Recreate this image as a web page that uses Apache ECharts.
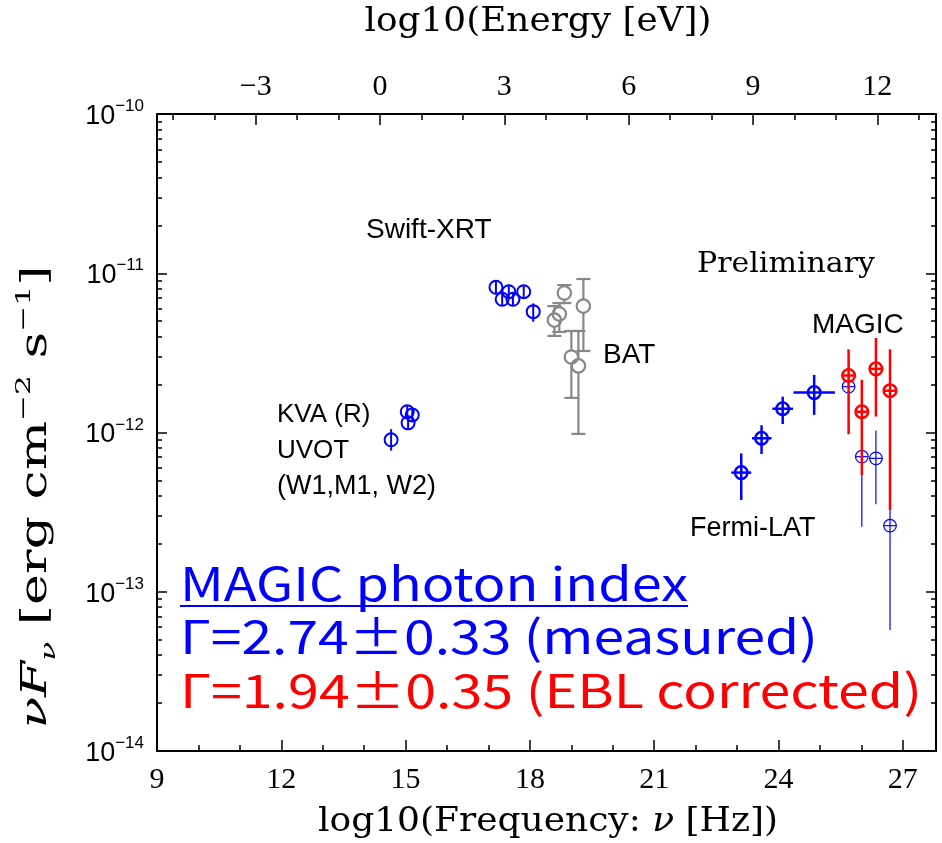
<!DOCTYPE html>
<html>
<head>
<meta charset="utf-8">
<script src="https://cdn.jsdelivr.net/npm/echarts@6/dist/echarts.min.js"></script>
<style>
  html, body { margin: 0; padding: 0; background: #fff; }
  #chart { width: 942px; height: 843px; }
</style>
</head>
<body>
<div id="chart"></div>
<script>
// log10(h / eV s): shifts log10(nu / Hz) onto log10(E / eV)
const LOG_H_EV = -14.383;

// Axis ranges (log10 of frequency, log10 of nuFnu)
const logNuRange = [9, 27.8];
const logFluxRange = [-14, -10];
const bottomTickLabels = [9, 12, 15, 18, 21, 24, 27];
const topTickLabels = [-3, 0, 3, 6, 9, 12];
const fluxDecades = [-14, -13, -12, -11, -10];

// KVA (R) and Swift-UVOT (W1, M1, W2)
const optLogNu = [14.65, 15.04, 15.16, 15.06];
const optFlux  = [9.0e-13, 1.35e-12, 1.29e-12, 1.15e-12];
const optLo    = [7.7e-13, 1.23e-12, 1.18e-12, 1.05e-12];
const optHi    = [1.05e-12, 1.48e-12, 1.41e-12, 1.26e-12];

// Swift-XRT
const xrtLogNu = [17.18, 17.33, 17.49, 17.59, 17.85, 18.08];
const xrtFlux  = [8.16e-12, 6.86e-12, 7.66e-12, 6.86e-12, 7.66e-12, 5.74e-12];
const xrtLo    = [7.41e-12, 6.23e-12, 6.96e-12, 6.23e-12, 6.96e-12, 4.96e-12];
const xrtHi    = [8.99e-12, 7.55e-12, 8.44e-12, 7.55e-12, 8.44e-12, 6.47e-12];

// Swift-BAT
const batLogNu = [18.59, 18.71, 18.83, 19.00, 19.17, 19.29];
const batFlux  = [5.08e-12, 5.55e-12, 7.52e-12, 2.98e-12, 2.62e-12, 6.22e-12];
const batLo    = [4.04e-12, 4.28e-12, 6.50e-12, 1.65e-12, 9.8e-13, 3.25e-12];
const batHi    = [6.22e-12, 6.50e-12, 8.43e-12, 4.34e-12, 4.34e-12, 9.20e-12];

// Fermi-LAT (energy bins as log10 nu ranges)
const latLogNu   = [23.10, 23.59, 24.10, 24.86];
const latLogNuLo = [22.86, 23.36, 23.85, 24.36];
const latLogNuHi = [23.34, 23.83, 24.35, 25.36];
const latFlux    = [5.60e-13, 9.20e-13, 1.41e-12, 1.78e-12];
const latLo      = [3.77e-13, 7.33e-13, 1.13e-12, 1.29e-12];
const latHi      = [7.39e-13, 1.11e-12, 1.68e-12, 2.30e-12];

// MAGIC, as measured
const magicLogNu = [25.69, 26.01, 26.35, 26.69];
const magicFlux  = [1.94e-12, 7.05e-13, 6.88e-13, 2.60e-13];
const magicLo    = [9.8e-13, 2.56e-13, 3.54e-13, 5.75e-14];
const magicHi    = [3.07e-12, 1.11e-12, 1.03e-12, 5.82e-13];

// MAGIC, EBL corrected
const eblFlux = [2.28e-12, 1.35e-12, 2.51e-12, 1.83e-12];
const eblLo   = [9.75e-13, 5.41e-13, 1.26e-12, 3.26e-13];
const eblHi   = [3.33e-12, 2.14e-12, 3.92e-12, 3.33e-12];

const BLUE = '#0000ff', RED = '#ff0000', GRAY = '#888888';
const SERIF = '"DejaVu Serif", serif';
const TSERIF = '"Liberation Serif", serif';
const SANS = '"Liberation Sans", Arial, sans-serif';
const BIG = '"Noto Sans CJK JP", "DejaVu Sans", sans-serif';

const lg = Math.log10;
function rows(xs, ys, lo, hi, xlo, xhi) {
  return xs.map((x, i) => [x, lg(ys[i]), lg(lo[i]), lg(hi[i]),
    xlo ? xlo[i] : x, xhi ? xhi[i] : x]);
}

// minor ticks of the log flux axis: log10(k * 10^n), k = 2..9
const minorFlux = [];
for (let n = logFluxRange[0]; n < logFluxRange[1]; n++) {
  for (let k = 2; k <= 9; k++) minorFlux.push(n + lg(k));
}
const topMinor = [];
for (let e = -5; e <= 13; e++) topMinor.push(e);

function seg(x1, y1, x2, y2, color, lw) {
  return { type: 'line', shape: { x1, y1, x2, y2 }, style: { stroke: color, lineWidth: lw } };
}
function ring(cx, cy, r, color, lw) {
  return { type: 'circle', shape: { cx, cy, r }, style: { fill: 'none', stroke: color, lineWidth: lw } };
}
function pts(api) {
  const x = api.value(0);
  return {
    c: api.coord([x, api.value(1)]),
    lo: api.coord([x, api.value(2)]),
    hi: api.coord([x, api.value(3)]),
    xl: api.coord([api.value(4), api.value(1)]),
    xr: api.coord([api.value(5), api.value(1)])
  };
}
// circle with the vertical error bar running through it
function phiMark(color, r, lw) {
  return function (params, api) {
    const p = pts(api);
    return { type: 'group', children: [
      seg(p.c[0], p.hi[1], p.c[0], p.lo[1], color, lw),
      ring(p.c[0], p.c[1], r, color, lw)
    ] };
  };
}
// open circle with capped error bars outside it
function capMark(color, r, lw, cap) {
  return function (params, api) {
    const p = pts(api);
    const x = p.c[0], ch = [ring(x, p.c[1], r, color, lw)];
    if (p.hi[1] < p.c[1] - r) {
      ch.push(seg(x, p.c[1] - r, x, p.hi[1], color, lw));
      ch.push(seg(x - cap, p.hi[1], x + cap, p.hi[1], color, lw));
    }
    if (p.lo[1] > p.c[1] + r) {
      ch.push(seg(x, p.c[1] + r, x, p.lo[1], color, lw));
      ch.push(seg(x - cap, p.lo[1], x + cap, p.lo[1], color, lw));
    }
    return { type: 'group', children: ch };
  };
}
// circled cross with vertical and horizontal error bars
function crossMark(color, r, lw) {
  return function (params, api) {
    const p = pts(api);
    const x = p.c[0], y = p.c[1];
    return { type: 'group', children: [
      seg(x, Math.min(p.hi[1], y - r), x, Math.max(p.lo[1], y + r), color, lw),
      seg(Math.min(p.xl[0], x - r), y, Math.max(p.xr[0], x + r), y, color, lw),
      ring(x, y, r, color, lw)
    ] };
  };
}

function customSeries(name, data, renderItem, z) {
  return { type: 'custom', name, data, renderItem, clip: false, z,
    xAxisIndex: 0, yAxisIndex: 0, silent: true };
}

const frameLine = { show: true, onZero: false, lineStyle: { color: '#000', width: 2 } };
const noLine = { show: false, onZero: false };
const tickStyle = { color: '#000', width: 1.5 };

function minusSign(v) { return String(v).replace('-', '\u2212'); }

const option = {
  animation: false,
  backgroundColor: '#fff',
  grid: { left: 157, top: 114, width: 779, height: 637, containLabel: false },
  xAxis: [
    { type: 'value', position: 'bottom', min: logNuRange[0], max: logNuRange[1], interval: 3,
      axisLine: frameLine,
      axisTick: { inside: true, length: 11, lineStyle: tickStyle },
      axisLabel: { margin: 14, color: '#000', fontFamily: TSERIF, fontSize: 30,
        formatter: v => bottomTickLabels.indexOf(v) >= 0 ? String(v) : '' },
      splitLine: { show: false } },
    { type: 'value', position: 'bottom', min: logNuRange[0], max: logNuRange[1], interval: 1,
      axisLine: noLine,
      axisTick: { inside: true, length: 6, lineStyle: tickStyle },
      axisLabel: { show: false }, splitLine: { show: false } },
    { type: 'value', position: 'top', min: logNuRange[0] + LOG_H_EV, max: logNuRange[1] + LOG_H_EV,
      axisLine: frameLine,
      axisTick: { inside: true, length: 11, lineStyle: tickStyle, customValues: topTickLabels },
      axisLabel: { margin: 12, color: '#000', fontFamily: TSERIF, fontSize: 30,
        customValues: topTickLabels, formatter: v => minusSign(v) },
      splitLine: { show: false } },
    { type: 'value', position: 'top', min: logNuRange[0] + LOG_H_EV, max: logNuRange[1] + LOG_H_EV,
      axisLine: noLine,
      axisTick: { inside: true, length: 6, lineStyle: tickStyle, customValues: topMinor },
      axisLabel: { show: false }, splitLine: { show: false } }
  ],
  yAxis: [
    { type: 'value', position: 'left', min: logFluxRange[0], max: logFluxRange[1], interval: 1,
      axisLine: frameLine,
      axisTick: { inside: true, length: 10, lineStyle: tickStyle },
      axisLabel: { margin: 13, color: '#000',
        formatter: v => fluxDecades.indexOf(v) >= 0 ? '{b|10}{s|' + minusSign(v) + '}' : '',
        rich: {
          b: { fontFamily: SANS, fontSize: 27, color: '#000', verticalAlign: 'bottom', lineHeight: 32 },
          s: { fontFamily: SANS, fontSize: 17, color: '#000', verticalAlign: 'top', lineHeight: 32 }
        } },
      splitLine: { show: false } },
    { type: 'value', position: 'left', min: logFluxRange[0], max: logFluxRange[1],
      axisLine: noLine,
      axisTick: { inside: true, length: 5, lineStyle: tickStyle, customValues: minorFlux },
      axisLabel: { show: false }, splitLine: { show: false } },
    { type: 'value', position: 'right', min: logFluxRange[0], max: logFluxRange[1], interval: 1,
      axisLine: frameLine,
      axisTick: { inside: true, length: 10, lineStyle: tickStyle },
      axisLabel: { show: false }, splitLine: { show: false } },
    { type: 'value', position: 'right', min: logFluxRange[0], max: logFluxRange[1],
      axisLine: noLine,
      axisTick: { inside: true, length: 5, lineStyle: tickStyle, customValues: minorFlux },
      axisLabel: { show: false }, splitLine: { show: false } }
  ],
  series: [
    customSeries('KVA / UVOT', rows(optLogNu, optFlux, optLo, optHi), phiMark(BLUE, 6.5, 2), 3),
    customSeries('Swift-XRT', rows(xrtLogNu, xrtFlux, xrtLo, xrtHi), phiMark(BLUE, 6.5, 2), 3),
    customSeries('Swift-BAT', rows(batLogNu, batFlux, batLo, batHi), capMark(GRAY, 6.7, 2.2, 7), 3),
    customSeries('Fermi-LAT', rows(latLogNu, latFlux, latLo, latHi, latLogNuLo, latLogNuHi), crossMark(BLUE, 6.3, 2.5), 3),
    customSeries('MAGIC', rows(magicLogNu, magicFlux, magicLo, magicHi), crossMark(BLUE, 6.3, 1.2), 3),
    customSeries('MAGIC (EBL corrected)', rows(magicLogNu, eblFlux, eblLo, eblHi), crossMark(RED, 6.3, 2.5), 4)
  ]
};

// Text widths, so headline and axis titles can be stretched to a set length
const measureCtx = document.createElement('canvas').getContext('2d');
function measure(pieces) {
  let w = 0;
  pieces.forEach(([text, font]) => { measureCtx.font = font; w += measureCtx.measureText(text).width; });
  return w;
}
function bigLine(text, color, y, width) {
  const font = '46px ' + BIG;
  return { type: 'text', x: 180, y, scaleX: width / measure([[text, font]]), z: 10,
    style: { text, fill: color, font, verticalAlign: 'middle', align: 'left' } };
}
function label(text, x, y, size, font) {
  return { type: 'text', x, y, z: 10,
    style: { text, fill: '#000', font: size + 'px ' + (font || SANS), verticalAlign: 'middle', align: 'left' } };
}

const titleSize = 33, subSize = 20;
const fMain = titleSize + 'px ' + SERIF;
const fItal = 'italic ' + titleSize + 'px ' + SERIF;

const yTitleSize = 35, ySubSize = 21;
const fyMain = yTitleSize + 'px ' + SERIF;
const fyItal = 'italic ' + yTitleSize + 'px ' + SERIF;
const fySmall = ySubSize + 'px ' + SERIF;
const fySmallItal = 'italic ' + ySubSize + 'px ' + SERIF;

const bottomTitleW = measure([['log10(Frequency: ', fMain], ['\u03bd', fItal], [' [Hz])', fMain]]);
const topTitleW = measure([['log10(Energy [eV])', fMain]]);
const yTitleW = measure([['\u03bdF', fyItal], ['\u03bd', fySmallItal], [' [erg cm', fyMain],
  ['\u22122', fySmall], [' s', fyMain], ['\u22121', fySmall], [']', fyMain]]);
const prelimFont = '28px ' + SERIF;

option.graphic = [
  label('Swift-XRT', 366, 230, 28),
  { type: 'text', x: 697, y: 265, z: 10, scaleX: 178 / measure([['Preliminary', prelimFont]]),
    style: { text: 'Preliminary', fill: '#000', font: prelimFont, verticalAlign: 'middle', align: 'left' } },
  label('MAGIC', 812, 325, 28),
  label('BAT', 603, 355, 28),
  label('KVA (R)', 277, 415, 26),
  label('UVOT', 277, 451, 26),
  label('(W1,M1, W2)', 277, 487, 27),
  label('Fermi-LAT', 690, 529, 27),
  bigLine('MAGIC photon index', BLUE, 584, 508),
  { type: 'line', z: 10, shape: { x1: 180, y1: 606, x2: 688, y2: 606 }, style: { stroke: BLUE, lineWidth: 2 } },
  bigLine('\u0393=2.74\u00b10.33 (measured)', BLUE, 637, 638),
  bigLine('\u0393=1.94\u00b10.35 (EBL corrected)', RED, 691, 742),
  { type: 'text', x: 548, y: 822, z: 10, scaleX: 460 / bottomTitleW,
    style: { text: 'log10(Frequency: {i|\u03bd} [Hz])', fill: '#000', font: fMain,
      align: 'center', verticalAlign: 'middle',
      rich: { i: { fontFamily: SERIF, fontSize: titleSize, fontStyle: 'italic', fill: '#000' } } } },
  { type: 'text', x: 538, y: 22, z: 10, scaleX: 347 / topTitleW,
    style: { text: 'log10(Energy [eV])', fill: '#000', font: fMain,
      align: 'center', verticalAlign: 'middle' } },
  { type: 'text', x: 37, y: 497, rotation: Math.PI / 2, scaleX: 463 / yTitleW, z: 10,
    style: { text: '{i|\u03bdF}{sub|\u03bd} [erg cm{sup|\u22122} s{sup|\u22121}]', fill: '#000',
      font: fyMain, align: 'center', verticalAlign: 'middle',
      rich: {
        i: { fontFamily: SERIF, fontSize: yTitleSize, fontStyle: 'italic', fill: '#000', verticalAlign: 'middle', lineHeight: 46 },
        sub: { fontFamily: SERIF, fontSize: ySubSize, fontStyle: 'italic', fill: '#000', verticalAlign: 'bottom', lineHeight: 46 },
        sup: { fontFamily: SERIF, fontSize: ySubSize, fill: '#000', verticalAlign: 'top', lineHeight: 46 }
      } } }
];

const chart = echarts.init(document.getElementById('chart'), null, { renderer: 'canvas' });
chart.setOption(option);
</script>
</body>
</html>
